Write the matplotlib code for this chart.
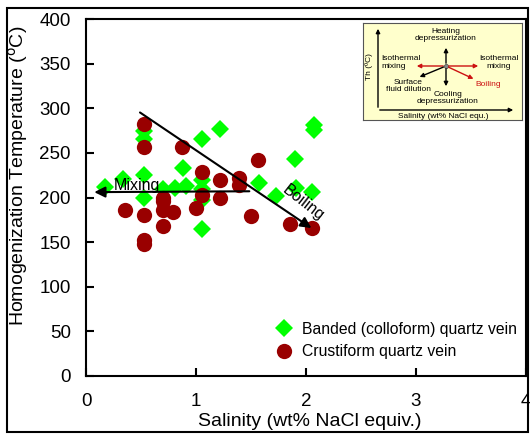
import matplotlib
matplotlib.use('Agg')
from matplotlib import pyplot as plt
from matplotlib.patches import Rectangle

plt.rcParams['font.family'] = ['Liberation Sans', 'DejaVu Sans']

# Banded (colloform) quartz vein - green diamonds
band_x = [0.17, 0.34, 0.53, 0.53, 0.53, 0.53, 0.70, 0.81, 0.88, 0.91, 1.05, 1.05,
          1.05, 1.05, 1.05, 1.22, 1.57, 1.73, 1.90, 1.91, 2.07, 2.07, 2.05]
band_y = [212, 221, 274, 266, 225, 199, 210, 211, 233, 213, 266, 220,
          210, 197, 165, 277, 216, 202, 243, 211, 281, 276, 206]

# Crustiform quartz vein - dark red circles
crust_x = [0.53, 0.53, 0.87, 0.35, 0.53, 0.53, 0.53, 0.70, 0.70, 0.70, 0.79, 0.70,
           1.00, 1.05, 1.05, 1.22, 1.22, 1.39, 1.39, 1.56, 1.50, 1.85, 2.05]
crust_y = [282, 257, 257, 186, 180, 152, 148, 200, 196, 186, 184, 168,
           188, 229, 203, 220, 200, 222, 214, 242, 179, 170, 166]

fig = plt.figure(figsize=(5.3, 4.34), dpi=100)
ax = fig.add_axes([86 / 530, 1 - 376 / 434, 440 / 530, 357 / 434])

ax.plot(band_x, band_y, 'D', color='#00ff00', markersize=9, markeredgewidth=0,
        label='Banded (colloform) quartz vein', zorder=2)
ax.plot(crust_x, crust_y, 'o', color='#990000', markersize=11, markeredgewidth=0,
        label='Crustiform quartz vein', zorder=3)

# trend arrows
ax.annotate('', xy=(0.05, 206), xytext=(1.51, 207),
            arrowprops=dict(arrowstyle='-|>', color='black', lw=1.5, mutation_scale=16), zorder=4)
ax.text(0.46, 214, 'Mixing', fontsize=11.5, ha='center', va='center', zorder=5)
ax.annotate('', xy=(2.07, 164), xytext=(0.47, 297),
            arrowprops=dict(arrowstyle='-|>', color='black', lw=1.5, mutation_scale=16), zorder=4)
ax.text(1.98, 194, 'Boiling', fontsize=11.5, ha='center', va='center', rotation=-38, zorder=5)

ax.set_xlim(0, 4)
ax.set_ylim(0, 400)
ax.set_xticks([0, 1, 2, 3, 4])
ax.set_yticks(range(0, 401, 50))
ax.tick_params(direction='in', length=6, width=1.5, labelsize=13.5)
ax.tick_params(axis='x', pad=12)
ax.tick_params(axis='y', pad=11)
for s in ax.spines.values():
    s.set_linewidth(1.5)
ax.set_xlabel('Salinity (wt% NaCl equiv.)', fontsize=14)
ax.set_ylabel(r'Homogenization Temperature ($^{\mathrm{o}}$C)', fontsize=14)
ax.xaxis.set_label_coords(0.509, -0.103)
ax.yaxis.set_label_coords(-0.128, 0.56)

ax.legend(loc='lower right', bbox_to_anchor=(1.0, 0.02), frameon=False, fontsize=11.3,
          handletextpad=0.1, labelspacing=0.5, borderaxespad=0.2)

# inset schematic (pixel-like coordinates inside its own box)
ins = fig.add_axes([363 / 530, 1 - 120 / 434, 159 / 530, 97 / 434])
ins.set_xlim(363, 522)
ins.set_ylim(120, 23)
ins.set_xticks([])
ins.set_yticks([])
ins.set_facecolor('#ffffcc')
for s in ins.spines.values():
    s.set_linewidth(0.8)
    s.set_color('#555555')
red = '#cc1111'
arr = dict(arrowstyle='-|>', lw=1.0, mutation_scale=6)
ins.annotate('', xy=(378, 26), xytext=(378, 110), arrowprops=dict(arr, color='black'))
ins.annotate('', xy=(516, 110), xytext=(377, 110), arrowprops=dict(arr, color='black'))
cx, cy = 446, 66
ins.annotate('', xy=(446, 45), xytext=(cx, cy), arrowprops=dict(arr, color='black'))
ins.annotate('', xy=(446, 89), xytext=(cx, cy), arrowprops=dict(arr, color='black'))
ins.annotate('', xy=(414, 66), xytext=(cx, cy), arrowprops=dict(arr, color=red))
ins.annotate('', xy=(481, 66), xytext=(cx, cy), arrowprops=dict(arr, color=red))
ins.annotate('', xy=(476, 80), xytext=(cx, cy), arrowprops=dict(arr, color=red))
ins.annotate('', xy=(417, 78), xytext=(cx, cy), arrowprops=dict(arr, color='black'))
ins.plot([cx], [cy], 'o', color='#888888', markersize=3, markeredgecolor='#444444', markeredgewidth=0.5)
fs = 6
ins.text(446, 35, 'Heating\ndepressurization', fontsize=fs, ha='center', va='center', linespacing=1.1)
ins.text(448, 98, 'Cooling\ndepressurization', fontsize=fs, ha='center', va='center', linespacing=1.1)
ins.text(381, 63, 'Isothermal\nmixing', fontsize=fs, ha='left', va='center', linespacing=1.2)
ins.text(499, 63, 'Isothermal\nmixing', fontsize=fs, ha='center', va='center', linespacing=1.2)
ins.text(488, 84, 'Boiling', fontsize=fs, ha='center', va='center', color=red)
ins.text(408, 86, 'Surface\nfluid dilution', fontsize=fs, ha='center', va='center', linespacing=1.1)
ins.text(369, 67, 'Th (ºC)', fontsize=fs, ha='center', va='center', rotation=90)
ins.text(443, 116, 'Salinity (wt% NaCl equ.)', fontsize=fs, ha='center', va='center')

# outer frame round the whole figure
fig.patches.append(Rectangle((7 / 530, 2 / 434), 521 / 530, 424 / 434, transform=fig.transFigure,
                             fill=False, edgecolor='black', linewidth=1.5))

fig.savefig('out.png', dpi=100)
